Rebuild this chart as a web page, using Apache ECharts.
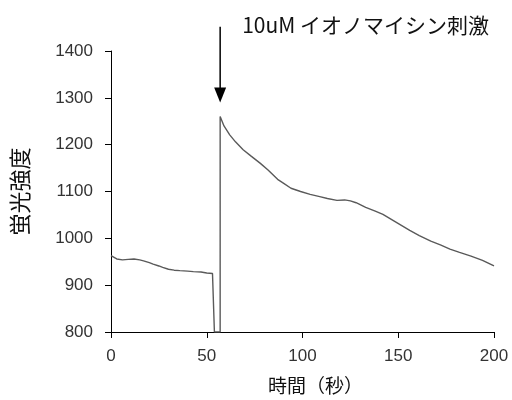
<!DOCTYPE html>
<html lang="ja">
<head>
    <meta charset="UTF-8">
    <title>蛍光強度</title>
    <script src="https://cdn.jsdelivr.net/npm/echarts@6/dist/echarts.min.js"></script>
    <style>
        html, body { margin: 0; padding: 0; background: #fff; }
        #main { width: 512px; height: 400px; }
    </style>
</head>
<body>
    <div id="main"></div>
    <script type="text/javascript">
        // 時間(秒)
        var times = [0, 1, 3, 6, 9, 12, 15, 17, 20, 22, 25, 27, 30, 33, 36, 40, 43, 47, 50, 53, 54, 54,
                     57, 57, 59, 62, 65, 69, 73, 78, 82, 87, 90, 94, 99, 104, 109, 113, 118, 122, 125,
                     128, 133, 138, 142, 149, 156, 161, 167, 172, 177, 182, 188, 194, 200];
        // 蛍光強度
        var intensity = [963, 961, 956, 954, 955, 956, 954, 952, 948, 945, 941, 938, 934, 932, 931, 930, 929, 928, 926, 925, 925, 800,
                         800, 1260, 1240, 1221, 1206, 1189, 1176, 1160, 1146, 1126, 1118, 1107, 1100, 1094, 1089, 1085, 1081, 1082, 1080,
                         1076, 1066, 1058, 1051, 1034, 1017, 1006, 994, 986, 977, 970, 962, 953, 941];
        // 刺激のタイミング (矢印)
        var stimTime = 57;
        var arrowFrom = 1452;
        var arrowTo = 1290;
        var stimLabel = '10uM イオノマイシン刺激';

        var font = '"Liberation Sans", "Noto Sans CJK JP", sans-serif';
        var jpFont = '"Noto Sans CJK JP", sans-serif';

        var myChart = echarts.init(document.getElementById('main'));
        var option = {
            animation: false,
            grid: { left: 111, right: 18, top: 51, bottom: 67 },
            xAxis: {
                type: 'value',
                min: 0, max: 200, interval: 50,
                name: '時間（秒）',
                nameLocation: 'middle',
                nameGap: 44,
                nameTextStyle: { fontFamily: jpFont, fontSize: 19, color: '#111', padding: [0, 0, 0, 26] },
                axisLine: { lineStyle: { color: '#000', width: 1 } },
                axisTick: { length: 6, lineStyle: { color: '#000' } },
                axisLabel: { fontFamily: font, fontSize: 17, color: '#333', margin: 16 },
                splitLine: { show: false }
            },
            yAxis: {
                type: 'value',
                min: 800, max: 1400, interval: 100,
                name: '蛍光強度',
                nameLocation: 'middle',
                nameGap: 80,
                nameRotate: 90,
                nameTextStyle: { fontFamily: jpFont, fontSize: 22, color: '#111' },
                axisLine: { show: true, lineStyle: { color: '#000', width: 1 } },
                axisTick: { show: true, length: 6, lineStyle: { color: '#000' } },
                axisLabel: {
                    fontFamily: font, fontSize: 17, color: '#333', margin: 18,
                    formatter: function (v) { return String(v); }  // 桁区切りなし
                },
                splitLine: { show: false }
            },
            series: [{
                type: 'line',
                data: times.map(function (t, i) { return [t, intensity[i]]; }),
                showSymbol: false,
                symbol: 'none',
                lineStyle: { color: '#5a5a5a', width: 1.4 },
                z: 3
            }]
        };
        myChart.setOption(option);

        // 矢印と注釈はデータ座標から位置を求める
        var p0 = myChart.convertToPixel({ gridIndex: 0 }, [stimTime, arrowFrom]);
        var p1 = myChart.convertToPixel({ gridIndex: 0 }, [stimTime, arrowTo]);
        var headH = 15, headW = 6;
        myChart.setOption({
            graphic: [
                {
                    type: 'line',
                    shape: { x1: p0[0], y1: p0[1], x2: p1[0], y2: p1[1] - headH + 2 },
                    style: { stroke: '#000', lineWidth: 1.5 }
                },
                {
                    type: 'polygon',
                    shape: { points: [[p1[0] - headW, p1[1] - headH], [p1[0] + headW, p1[1] - headH], [p1[0], p1[1]]] },
                    style: { fill: '#000' }
                },
                {
                    type: 'text',
                    x: p0[0] + 22,
                    y: p0[1] - 2,
                    style: {
                        text: stimLabel,
                        font: '21px ' + jpFont,
                        fill: '#111',
                        textVerticalAlign: 'middle'
                    }
                }
            ]
        });
    </script>
</body>
</html>
